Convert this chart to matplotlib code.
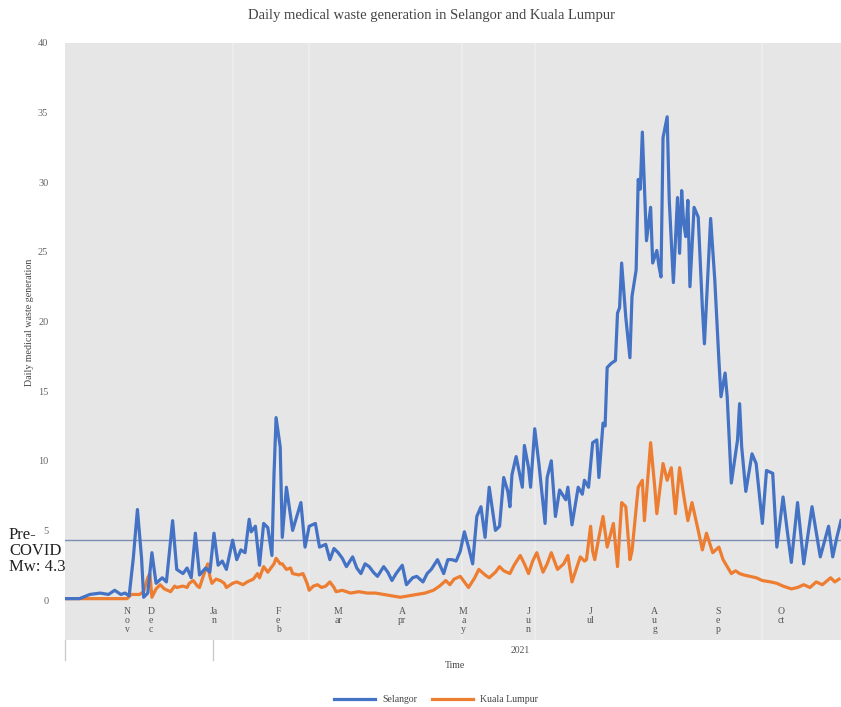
import numpy as np
import matplotlib.pyplot as plt
from matplotlib.lines import Line2D

# days counted from the first reading (late Oct 2020) -> daily medical waste (tonnes)
sel_day = [0, 7, 12, 17, 21, 24, 27, 29, 31, 33, 35, 37, 38, 40, 42, 44, 47, 49, 52, 54,
           57, 59, 61, 63, 65, 68, 70, 72, 74, 76, 78, 81, 83, 85, 87, 89, 90, 92, 94, 96,
           98, 100, 101, 102, 104, 105, 107, 110, 112, 114, 116, 118, 121, 123, 126, 128, 130, 132, 134, 136,
           139, 141, 143, 145, 147, 149, 151, 154, 156, 158, 160, 163, 165, 168, 170, 173, 175, 177, 180, 183,
           185, 187, 189, 191, 193, 195, 197, 199, 201, 203, 205, 208, 210, 212, 214, 215, 216, 218, 221, 222,
           224, 225, 227, 229, 232, 233, 235, 237, 239, 242, 243, 245, 248, 250, 251, 253, 255, 257, 258, 260,
           261, 262, 264, 266, 267, 268, 269, 271, 273, 274, 276, 277, 278, 279, 281, 283, 284, 286, 287, 288,
           289, 291, 292, 294, 296, 297, 298, 299, 300, 301, 302, 304, 306, 308, 309, 312, 314, 316, 317, 319,
           320, 322, 325, 326, 327, 329, 332, 334, 337, 339, 342, 344, 347, 349, 351, 354, 357, 361, 365, 369,
           371, 373, 375]
selangor = [0.1, 0.1, 0.4, 0.5, 0.4, 0.7, 0.4, 0.5, 0.3, 3.0, 6.5, 3.0, 0.2, 0.5, 3.4, 1.2, 1.6, 1.3, 5.7, 2.2,
            1.9, 2.3, 1.6, 4.8, 1.8, 2.3, 2.0, 4.8, 2.5, 2.8, 2.2, 4.3, 2.9, 3.6, 3.4, 5.8, 4.9, 5.3, 2.5, 5.5,
            5.2, 3.2, 9.0, 13.1, 11.0, 4.5, 8.1, 5.0, 6.0, 7.0, 3.8, 5.3, 5.5, 3.8, 4.0, 2.9, 3.7, 3.4, 3.0, 2.4,
            3.1, 2.3, 1.9, 2.6, 2.4, 2.0, 1.7, 2.4, 2.0, 1.4, 1.9, 2.5, 1.1, 1.6, 1.7, 1.3, 1.9, 2.2, 2.9, 1.9,
            2.9, 2.9, 2.8, 3.5, 4.9, 3.8, 2.6, 6.0, 6.7, 4.5, 8.1, 5.0, 5.3, 8.8, 7.8, 6.7, 9.0, 10.3, 8.1, 11.1,
            9.5, 8.1, 12.3, 9.8, 5.5, 8.8, 10.0, 6.0, 7.9, 7.2, 8.1, 5.4, 8.1, 7.6, 8.6, 8.1, 11.3, 11.5, 8.8, 12.7,
            12.5, 16.7, 17.0, 17.2, 20.6, 21.0, 24.2, 20.3, 17.4, 21.8, 23.7, 30.2, 29.5, 33.6, 25.8, 28.2, 24.2, 25.1, 24.0, 23.2,
            33.2, 34.7, 28.7, 22.8, 28.9, 24.9, 29.4, 27.0, 26.1, 28.7, 22.5, 28.2, 27.5, 21.0, 18.4, 27.4, 23.0, 17.2, 14.6, 16.3,
            14.6, 8.4, 11.5, 14.1, 11.0, 7.8, 10.5, 9.8, 5.5, 9.3, 9.1, 3.8, 7.4, 5.0, 2.7, 7.0, 2.6, 6.7, 3.1, 5.3,
            3.1, 4.5, 5.7]

kl_day = [0, 12, 22, 30, 32, 36, 38, 40, 41, 42, 44, 46, 48, 51, 53, 54, 57, 59, 60, 62,
          64, 65, 67, 69, 70, 71, 73, 75, 77, 78, 81, 83, 86, 88, 91, 93, 94, 96, 98, 99,
          101, 102, 104, 105, 107, 109, 110, 113, 115, 117, 118, 120, 122, 124, 126, 128, 130, 131, 134, 138,
          142, 146, 150, 154, 158, 162, 166, 170, 174, 178, 181, 184, 186, 188, 191, 193, 195, 198, 200, 203,
          205, 208, 210, 212, 215, 217, 220, 222, 224, 226, 228, 231, 233, 235, 238, 241, 243, 245, 247, 249,
          251, 252, 254, 255, 256, 258, 260, 262, 265, 267, 269, 271, 273, 274, 277, 279, 280, 283, 285, 286,
          289, 291, 293, 295, 297, 299, 301, 303, 306, 308, 310, 313, 316, 318, 320, 322, 324, 326, 328, 331,
          334, 337, 341, 344, 347, 351, 354, 357, 360, 363, 366, 370, 372, 374]
kuala_lumpur = [0.1, 0.1, 0.1, 0.1, 0.4, 0.4, 0.6, 1.6, 1.9, 0.2, 0.8, 1.1, 0.8, 0.6, 1.0, 0.9, 1.0, 0.9, 1.2, 1.4,
                1.0, 0.9, 1.8, 2.6, 1.7, 1.2, 1.5, 1.4, 1.2, 0.9, 1.2, 1.3, 1.1, 1.3, 1.5, 1.9, 1.6, 2.4, 2.0, 2.2,
                2.6, 3.0, 2.6, 2.6, 2.2, 2.3, 1.9, 1.8, 1.9, 1.2, 0.7, 1.0, 1.1, 0.9, 1.0, 1.3, 0.9, 0.6, 0.7, 0.5,
                0.6, 0.5, 0.5, 0.4, 0.3, 0.2, 0.3, 0.4, 0.5, 0.7, 1.0, 1.4, 1.1, 1.5, 1.7, 1.3, 0.9, 1.6, 2.2, 1.8,
                1.6, 2.0, 2.4, 2.1, 1.9, 2.5, 3.2, 2.6, 1.9, 2.8, 3.4, 2.0, 2.6, 3.4, 2.2, 2.6, 3.2, 1.3, 2.2, 3.1,
                2.8, 2.9, 5.3, 3.5, 2.9, 4.5, 6.0, 3.8, 5.5, 2.4, 7.0, 6.7, 2.9, 3.5, 8.1, 8.6, 5.7, 11.3, 8.1, 6.2,
                9.8, 8.6, 9.5, 6.2, 9.5, 7.5, 5.7, 7.0, 5.0, 3.6, 4.8, 3.4, 3.8, 2.9, 2.4, 1.9, 2.1, 1.9, 1.8, 1.7,
                1.6, 1.4, 1.3, 1.2, 1.0, 0.8, 0.9, 1.1, 0.9, 1.3, 1.1, 1.6, 1.3, 1.5]

pre_covid_mean = 4.3
month_labels = ['N\no\nv', 'D\ne\nc', 'Ja\nn', 'F\ne\nb', 'M\nar', 'A\npr',
                'M\na\ny', 'J\nu\nn', 'J\nul', 'A\nu\ng', 'S\ne\np', 'O\nct']
month_day = [30, 41.5, 72, 103, 132, 163, 192.5, 224, 254, 285, 315.5, 346]
year_start_day = 71.5
total_days = 375

plt.rcParams['font.family'] = ['Liberation Serif', 'DejaVu Serif']

fig = plt.figure(figsize=(8.41, 7.07), dpi=100)
ax = fig.add_axes([65 / 841, 67 / 707, 776 / 841, 597 / 707])
ax.set_facecolor('#e6e6e6')
for s in ax.spines.values():
    s.set_visible(False)

# faint vertical bands in the plot area
for d in [81, 118, 192, 227, 337]:
    ax.axvline(d, color='#eeeeee', lw=1.2, zorder=0)

ax.axhline(pre_covid_mean, color='#7d8fb3', lw=1.0, zorder=1)
ax.plot(sel_day, selangor, color='#4472c4', lw=2.3, label='Selangor', zorder=3)
ax.plot(kl_day, kuala_lumpur, color='#ed7d31', lw=2.3, label='Kuala Lumpur', zorder=2)

ax.set_xlim(0, total_days)
ax.set_ylim(-2.87, 40)
ax.set_yticks(np.arange(0, 41, 5))
ax.tick_params(axis='y', length=0, labelsize=7.5, labelcolor='#666666', pad=12)
ax.set_xticks([])

for d, lab in zip(month_day, month_labels):
    ax.text(d, -0.5, lab, ha='center', va='top', fontsize=7, color='#555555',
            linespacing=1.0)

# year level of the category axis
for d in [0, year_start_day]:
    ax.plot([d, d], [0, -0.034], transform=ax.get_xaxis_transform(),
            color='#cccccc', lw=1, clip_on=False)
ax.text(220, -0.017, '2021', transform=ax.get_xaxis_transform(), ha='center',
        va='center', fontsize=7, color='#555555')

fig.text(455 / 841, 1 - 665 / 707, 'Time', ha='center', va='center', fontsize=7,
         color='#444444')
fig.text(30 / 841, 1 - 322 / 707, 'Daily medical waste generation', rotation=90,
         ha='center', va='center', fontsize=7.2, color='#444444')
fig.text(432 / 841, 1 - 16 / 707, 'Daily medical waste generation in Selangor and Kuala Lumpur',
         ha='center', va='center', fontsize=10.5, color='#444444')
fig.text(9 / 841, 1 - 551 / 707, 'Pre-\nCOVID\nMw: 4.3', ha='left', va='center',
         fontsize=12, color='#222222', linespacing=1.0, zorder=-1)

handles = [Line2D([], [], color='#4472c4', lw=2.3), Line2D([], [], color='#ed7d31', lw=2.3)]
fig.legend(handles, ['Selangor', 'Kuala Lumpur'], loc='center', ncol=2,
           bbox_to_anchor=(436 / 841, 1 - 700 / 707), frameon=False, fontsize=7,
           handlelength=4.2, columnspacing=1.5, labelcolor='#444444')

fig.savefig('out.png', dpi=100)
